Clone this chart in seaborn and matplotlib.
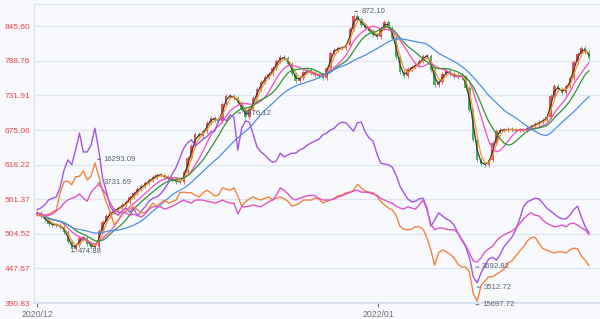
import numpy as np
import pandas as pd
import matplotlib
matplotlib.use("Agg")
import matplotlib.pyplot as plt
import seaborn as sns

# ---------------- data ----------------
STEP_DAYS = 3  # trading days between samples
first_open = 536
close = [539,534,527,521,519,519,516,508,491,480,
         486,498,498,488,483,483,509,524,534,540,
         544,547,552,557,565,572,578,583,588,593,
         598,601,601,598,595,593,590,590,606,629,
         649,669,665,673,687,695,692,690,718,731,
         731,728,719,708,696,710,728,742,754,762,
         767,777,788,795,793,784,767,756,761,770,
         774,769,765,764,761,777,802,807,810,810,
         815,841,862,857,848,843,838,831,828,843,
         853,843,826,795,770,764,775,779,782,788,
         797,797,774,749,754,767,772,767,762,765,
         762,744,708,659,626,619,618,626,654,673,
         675,675,677,675,675,675,675,678,682,685,
         688,692,696,731,747,742,736,747,761,787,
         800,810,803,793]

purple = [544,547,552,560,563,565,581,609,626,618,
          642,670,639,639,650,678,642,596,573,549,
          540,535,542,547,540,547,534,542,549,558,
          563,565,570,578,588,603,613,629,645,654,
          659,649,654,660,664,672,673,690,696,690,
          700,696,642,678,690,688,668,647,639,634,
          627,622,624,637,631,634,637,637,642,645,
          650,654,657,660,667,670,675,678,685,688,
          687,680,673,687,688,672,662,657,637,621,
          619,618,614,601,583,572,562,557,558,562,
          563,547,517,527,539,534,529,526,519,506,
          494,484,465,434,424,440,453,463,466,461,
          471,484,491,499,511,529,549,557,560,563,
          562,555,547,542,537,532,529,529,535,544,
          550,532,516,506]

orange = [535,534,534,537,540,544,572,590,591,585,
          598,599,608,593,599,621,599,575,555,540,
          519,527,537,542,545,549,544,539,539,547,
          555,550,555,560,555,557,560,572,573,572,
          572,568,565,572,576,572,567,568,580,578,
          576,580,567,550,557,562,565,562,560,563,
          565,560,563,565,562,558,550,552,555,560,
          560,560,563,562,555,558,560,563,567,568,
          572,573,576,586,580,575,573,572,567,558,
          552,547,544,535,517,512,511,512,516,516,
          512,498,478,453,473,478,475,471,465,455,
          450,450,442,406,394,419,427,434,434,438,
          442,447,457,460,468,476,483,493,498,499,
          489,480,478,475,473,475,475,473,478,481,
          480,468,461,452]

pink = [539,537,535,535,537,542,547,555,560,563,
        565,570,563,558,573,580,586,578,568,555,
        544,540,540,539,535,537,535,532,537,545,
        549,549,549,545,547,550,553,557,560,557,
        555,560,560,560,558,557,555,557,560,557,
        555,555,537,549,549,550,552,550,549,553,
        557,560,568,580,576,570,563,560,563,565,
        567,568,567,563,560,560,560,562,565,567,
        570,572,575,576,573,573,572,570,568,563,
        560,557,555,550,547,545,549,547,545,552,
        560,544,521,511,514,514,512,511,511,506,
        496,486,473,460,458,465,475,480,484,493,
        499,503,506,509,514,521,529,535,539,535,
        534,527,522,519,516,517,519,516,521,522,
        519,514,511,503]

ma_names = ["MA5", "MA10", "MA20", "MA30", "MA60"]
ma_windows_days = [5, 10, 20, 30, 60]

ytick_values = [390.83, 447.67, 504.52, 561.37, 618.22, 675.06, 731.91, 788.76, 845.60]
ytick_labels = ["390.83", "447.67", "504.52", "561.37", "618.22", "675.06", "731.91", "788.76", "845.60"]
xtick_days = [0, 265]
xtick_labels = ["2020/12", "2022/01"]

label_texts = ["16293.09", "3731.69", "474.88", "3576.12", "872.10", "3692.82", "3512.72", "15697.72"]
label_days = [47, 47, 27, 156, 247, 341, 342, 341]
label_vals = [627, 588, 475, 703, 870, 450, 417, 388]

# ---------------- styling ----------------
BG = "#f8f9fd"
GRID = "#e0e6f1"
UP = "#eb5454"
DOWN = "#47b262"
MA_COLORS = ["#3a3a3a", "#f59a2a", "#f24cbf", "#2f962f", "#4b8fe8"]
SERIES_COLORS = {"purple": "#9f56e2", "orange": "#f0843e", "pink": "#e053c6"}

sns.set_theme(style="white")
plt.rcParams["font.family"] = ["Liberation Sans", "DejaVu Sans"]

fig = plt.figure(figsize=(6.0, 3.19), dpi=100, facecolor=BG)
ax = fig.add_axes([34 / 600, 16 / 319, 566 / 600, 299 / 319])
ax.set_facecolor(BG)

n = len(close)
days = np.arange(n) * STEP_DAYS
c = np.array(close, dtype=float)
o = np.array([first_open] + close[:-1], dtype=float)
up = c >= o
cols = np.where(up, UP, DOWN)

df = pd.DataFrame({"day": days, "close": c, "purple": purple,
                   "orange": orange, "pink": pink})

# candles
lo = np.minimum(o, c)
hi = np.maximum(o, c)
ax.vlines(days, lo - 3.0, hi + 3.0, colors=cols, linewidth=0.6, zorder=3)
ax.bar(days, np.maximum(hi - lo, 1.0), bottom=lo, width=STEP_DAYS * 0.62,
       color=cols, linewidth=0, zorder=3)

# moving averages
for name, w, col in zip(ma_names, ma_windows_days, MA_COLORS):
    win = max(1, int(round(w / STEP_DAYS)))
    df[name] = df["close"].rolling(win, min_periods=1).mean()
    sns.lineplot(data=df, x="day", y=name, ax=ax, color=col, linewidth=0.9,
                 legend=False, zorder=4)

# other series
for name in ["purple", "orange", "pink"]:
    sns.lineplot(data=df, x="day", y=name, ax=ax, color=SERIES_COLORS[name],
                 linewidth=1.0, legend=False, zorder=5)

# labels
for t, d, v in zip(label_texts, label_days, label_vals):
    ax.annotate(t, xy=(d, v), xytext=(4.5, 0), textcoords="offset points",
                ha="left", va="center", fontsize=5.6, color="#5b6273",
                annotation_clip=False, zorder=6,
                arrowprops=dict(arrowstyle="-", color="#5b6273", lw=0.7,
                                shrinkA=0, shrinkB=0))

# axes
px_per_day = 1.287
ax.set_xlim(-3 / px_per_day, (600 - 37) / px_per_day)
ax.set_ylim(390.83, 882.1)
ax.set_yticks(ytick_values)
ax.set_yticklabels(ytick_labels)
ax.set_xticks(xtick_days)
ax.set_xticklabels(xtick_labels)
ax.set_xlabel("")
ax.set_ylabel("")
ax.yaxis.grid(True, color=GRID, linewidth=1.0)
ax.xaxis.grid(False)
ax.set_axisbelow(True)
ax.tick_params(axis="y", length=0, pad=2.5, labelsize=6.0, labelcolor="#e8424e")
ax.tick_params(axis="x", length=3, width=0.8, color="#6e7079", pad=2,
               labelsize=6.3, labelcolor="#6e7079", bottom=True)
for s in ["left", "top"]:
    ax.spines[s].set_color(GRID)
    ax.spines[s].set_linewidth(1.0)
ax.spines["right"].set_visible(False)
ax.spines["bottom"].set_color("#d6deeb")
ax.spines["bottom"].set_linewidth(1.3)

fig.savefig("out.png", dpi=100, facecolor=BG)
